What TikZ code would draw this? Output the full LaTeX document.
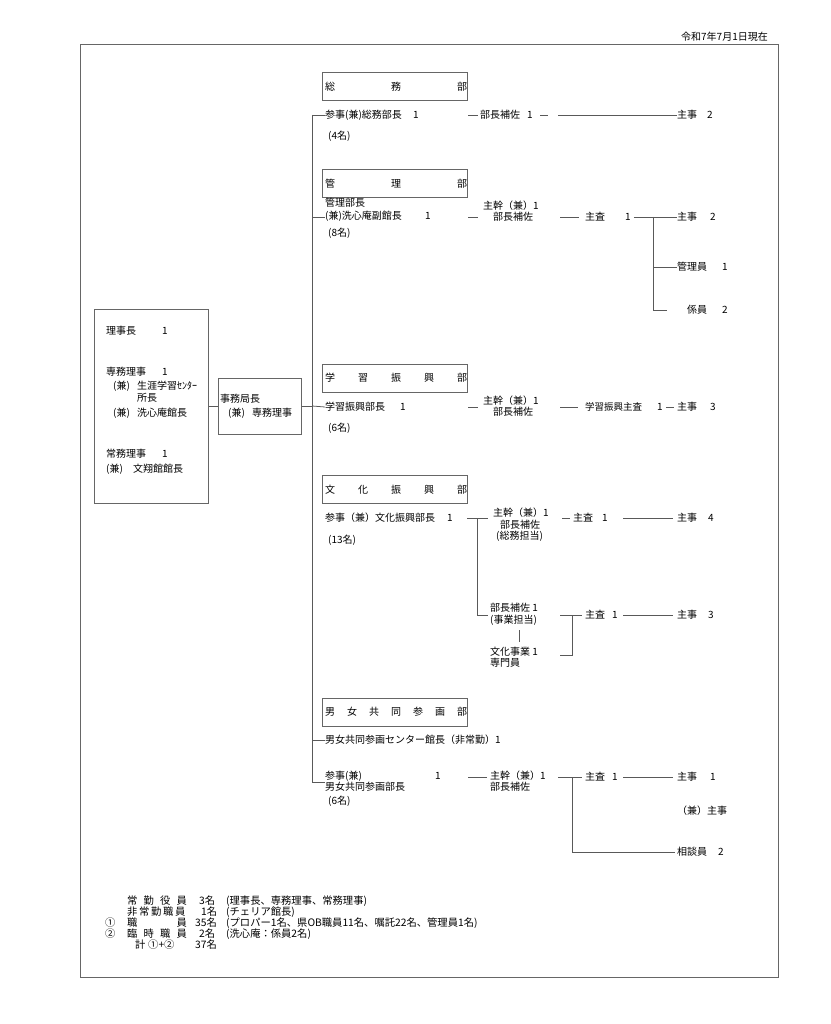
\documentclass[tikz,border=0pt]{standalone}
\usepackage{fontspec}
\newfontfamily\jp{Noto Sans CJK JP}
\newcommand\dtitle[4]{\foreach \c [count=\i] in {#4} {\node[t] (#1\i) at ({325+(\i-1)*132/(#3-1)},#2) {\c};}}
\begin{document}
\begin{tikzpicture}[x=1pt,y=-1pt,
  t/.style={anchor=west,inner sep=0pt,font=\jp\fontsize{10}{12}\selectfont,text=black},
  ts/.style={t,font=\jp\fontsize{9.5}{11}\selectfont},
  tn/.style={t,font=\jp\fontsize{10.3}{12}\selectfont},
  ln/.style={draw=black!65,line width=0.8pt},
  bx/.style={draw=black!60,line width=1pt,rectangle,inner sep=0pt},
  dept/.style={bx,minimum width=145pt,minimum height=28pt}]
\useasboundingbox (0,0) rectangle (830,1024);
% frame and date
\node[bx,minimum width=698pt,minimum height=932pt] (frame) at (429,511) {};
\node[t,anchor=east] (date) at (768,37) {令和7年7月1日現在};

% left box
\node[bx,minimum width=114pt,minimum height=194pt] (lb) at (151,406) {};
\node[t] (l1) at (106,331) {理事長};\node[t] (l1n) at (162,331) {1};
\node[t] (l2) at (106,372) {専務理事};\node[t] (l2n) at (162,372) {1};
\node[t] (l3a) at (113,386) {(兼)};\node[t] (l3) at (137,386) {生涯学習ｾﾝﾀｰ};
\node[t] (l4) at (137,398) {所長};
\node[t] (l5a) at (113,413) {(兼)};\node[t] (l5) at (137,413) {洗心庵館長};
\node[t] (l6) at (106,454) {常務理事};\node[t] (l6n) at (162,454) {1};
\node[t] (l7a) at (106,469) {(兼)};\node[t] (l7) at (133,469) {文翔館館長};

% middle box
\node[bx,minimum width=83pt,minimum height=56pt] (mb) at (259.5,406) {};
\node[t] (m1) at (220,399) {事務局長};
\node[t] (m2a) at (228,413) {(兼)};\node[t] (m2) at (252,413) {専務理事};
\draw[ln] (lb.east) -- (mb.west);
\coordinate (tt) at (312,115);
\coordinate (tb) at (312,782);
\draw[ln] (mb.east) -- (mb.east -| tt);
\draw[ln] (tt) -- (tb);

% ===== 総務部
\node[dept] (d1) at (394.5,86.5) {};
\dtitle{a}{86.5}{3}{総,務,部}
\node[t] (a10) at (325,115) {参事(兼)総務部長};\node[t] (a10n) at (413,115) {1};
\node[t] (a11) at (328,136) {(4名)};
\draw[ln] (tt) -- (tt -| a10.west);
\coordinate (a2s) at (468,115);\coordinate (a2e) at (478,115);
\draw[ln] (a2s) -- (a2e);
\node[t] (a20) at (480,115) {部長補佐};\node[t] (a20n) at (527,115) {1};
\coordinate (a3s) at (540,115);\coordinate (a3e) at (548,115);
\draw[ln] (a3s) -- (a3e);
\node[t] (a40) at (677,115) {主事};\node[t] (a40n) at (707,115) {2};
\coordinate (a4s) at (558,115);
\draw[ln] (a4s) -- (a40.west);

% ===== 管理部
\node[dept] (d2) at (394.5,183.5) {};
\dtitle{b}{183.5}{3}{管,理,部}
\node[t] (b10) at (325,203) {管理部長};
\node[t] (b11) at (325,216) {(兼)洗心庵副館長};\node[t] (b11n) at (425,216) {1};
\node[t] (b12) at (328,233) {(8名)};
\coordinate (bj) at (312,217);
\draw[ln] (bj) -- (bj -| b11.west);
\coordinate (b2s) at (468,217);\coordinate (b2e) at (478,217);
\draw[ln] (b2s) -- (b2e);
\node[t] (b20) at (483,206) {主幹（兼）1};
\node[t] (b21) at (493,217) {部長補佐};
\coordinate (b3s) at (560,217);
\node[t] (b30) at (585,217) {主査};\node[t] (b30n) at (625,217) {1};
\draw[ln] (b3s) -- ([xshift=-6pt]b30.west);
\node[t] (b40) at (677,217) {主事};\node[t] (b40n) at (710,217) {2};
\draw[ln] ([xshift=3pt]b30n.east) -- (b40.west);
\coordinate (bv) at (653,217);\coordinate (bvb) at (653,310);
\draw[ln] (bv) -- (bvb);
\node[t] (b50) at (677,267) {管理員};\node[t] (b50n) at (722,267) {1};
\draw[ln] (b50.west -| bv) -- (b50.west);
\node[t] (b60) at (687,310) {係員};\node[t] (b60n) at (722,310) {2};
\coordinate (b6e) at (667,310);
\draw[ln] (bvb) -- (b6e);

% ===== 学習振興部
\node[dept] (d3) at (394.5,378) {};
\dtitle{c}{378}{5}{学,習,振,興,部}
\node[t] (c10) at (325,407) {学習振興部長};\node[t] (c10n) at (400,407) {1};
\node[t] (c11) at (328,428) {(6名)};
\draw[ln] (mb.east -| tt) -- (c10.west);
\coordinate (c2s) at (468,407);\coordinate (c2e) at (478,407);
\draw[ln] (c2s) -- (c2e);
\node[t] (c20) at (483,401) {主幹（兼）1};
\node[t] (c21) at (493,412) {部長補佐};
\coordinate (c3s) at (560,407);
\node[ts] (c30) at (585,407) {学習振興主査};\node[t] (c30n) at (657,407) {1};
\draw[ln] (c3s) -- ([xshift=-7pt]c30.west);
\node[t] (c40) at (677,407) {主事};\node[t] (c40n) at (710,407) {3};
\draw[ln] ([xshift=3pt]c30n.east) -- ([xshift=-3pt]c40.west);

% ===== 文化振興部
\node[dept] (d4) at (394.5,489.5) {};
\dtitle{e}{489.5}{5}{文,化,振,興,部}
\node[t] (e10) at (325,518) {参事（兼）文化振興部長};\node[t] (e10n) at (447,518) {1};
\node[t] (e11) at (328,540) {(13名)};
\coordinate (e1s) at (467,518);\coordinate (ev) at (477,518);\coordinate (e1e) at (488,518);
\coordinate (evb) at (477,615);\coordinate (e2e) at (488,615);
\draw[ln] (e1s) -- (e1e);
\draw[ln] (ev) -- (evb) -- (e2e);
\node[t] (e20) at (493,513) {主幹（兼）1};
\node[t] (e21) at (500,525) {部長補佐};
\node[t] (e22) at (496,536) {(総務担当)};
\coordinate (e3s) at (562,518);
\node[t] (e30) at (573,518) {主査};\node[t] (e30n) at (602,518) {1};
\draw[ln] (e3s) -- ([xshift=-3pt]e30.west);
\node[t] (e40) at (677,518) {主事};\node[t] (e40n) at (708,518) {4};
\coordinate (e4s) at (623,518);
\draw[ln] (e4s) -- ([xshift=-4pt]e40.west);
\node[t] (e50) at (490,608) {部長補佐 1};
\node[t] (e51) at (490,620) {(事業担当)};
\node[t] (e60) at (490,652) {文化事業 1};
\node[t] (e61) at (490,663) {専門員};
\coordinate (es1) at (519,630);\coordinate (es2) at (519,642);
\draw[ln] (es1) -- (es2);
\coordinate (ebt) at (560,615);\coordinate (ebr) at (572,615);
\coordinate (ebrb) at (572,655);\coordinate (ebb) at (560,655);
\draw[ln] (ebt) -- (ebr) -- (ebrb) -- (ebb);
\node[t] (e70) at (585,615) {主査};\node[t] (e70n) at (612,615) {1};
\draw[ln] (ebr) -- ([xshift=-3pt]e70.west);
\node[t] (e80) at (677,615) {主事};\node[t] (e80n) at (708,615) {3};
\coordinate (e8s) at (623,615);
\draw[ln] (e8s) -- ([xshift=-4pt]e80.west);

% ===== 男女共同参画部
\node[dept] (d5) at (394.5,712) {};
\dtitle{f}{712}{7}{男,女,共,同,参,画,部}
\node[t] (f10) at (325,740) {男女共同参画センター館長（非常勤）1};
\coordinate (fj) at (312,740);
\draw[ln] (fj) -- (f10.west);
\node[t] (f20) at (325,776) {参事(兼)};\node[t] (f20n) at (435,776) {1};
\node[t] (f21) at (325,787) {男女共同参画部長};
\node[t] (f22) at (328,801) {(6名)};
\draw[ln] (tb) -- (tb -| f21.west);
\coordinate (f3s) at (468,777);\coordinate (f3e) at (487,777);
\draw[ln] (f3s) -- (f3e);
\node[t] (f30) at (490,776) {主幹（兼）1};
\node[t] (f31) at (490,787) {部長補佐};
\coordinate (f4s) at (558,777);\coordinate (fv) at (572,777);\coordinate (fvb) at (572,852);
\node[t] (f40) at (585,777) {主査};\node[t] (f40n) at (612,777) {1};
\draw[ln] (f4s) -- ([xshift=-3pt]f40.west);
\node[t] (f50) at (677,777) {主事};\node[t] (f50n) at (710,777) {1};
\coordinate (f5s) at (623,777);
\draw[ln] (f5s) -- ([xshift=-4pt]f50.west);
\node[t] (f51) at (677,811) {（兼）主事};
\node[t] (f60) at (677,852) {相談員};\node[t] (f60n) at (718,852) {2};
\draw[ln] (fv) -- (fvb) -- ([xshift=-2pt]f60.west);

% ===== notes
\begin{scope}[every node/.style={tn}]
\foreach \c/\x [count=\i] in {常/127,勤/143.5,役/160,員/176.5} {\node (na\i) at (\x,901) {\c};}
\node (na5) at (199,901) {3名};
\node (na6) at (226,901) {(理事長、専務理事、常務理事)};
\foreach \c/\x [count=\i] in {非/127,常/139,勤/151,職/163,員/175} {\node (nb\i) at (\x,912) {\c};}
\node (nb6) at (201,912) {1名};
\node (nb7) at (226,912) {(チェリア館長)};
\node (nc0) at (105,923) {①};
\node (nc1) at (127,923) {職};\node (nc2) at (176.5,923) {員};
\node (nc3) at (195,923) {35名};
\node (nc4) at (226,923) {(プロパー1名、県OB職員11名、嘱託22名、管理員1名)};
\node (nd0) at (105,934) {②};
\foreach \c/\x [count=\i] in {臨/127,時/143.5,職/160,員/176.5} {\node (nd\i) at (\x,934) {\c};}
\node (nd5) at (199,934) {2名};
\node (nd6) at (226,934) {(洗心庵：係員2名)};
\node (ne1) at (135,945) {計};
\node (ne2) at (148,945) {①+②};
\node (ne3) at (195,945) {37名};
\end{scope}
\end{tikzpicture}
\end{document}
